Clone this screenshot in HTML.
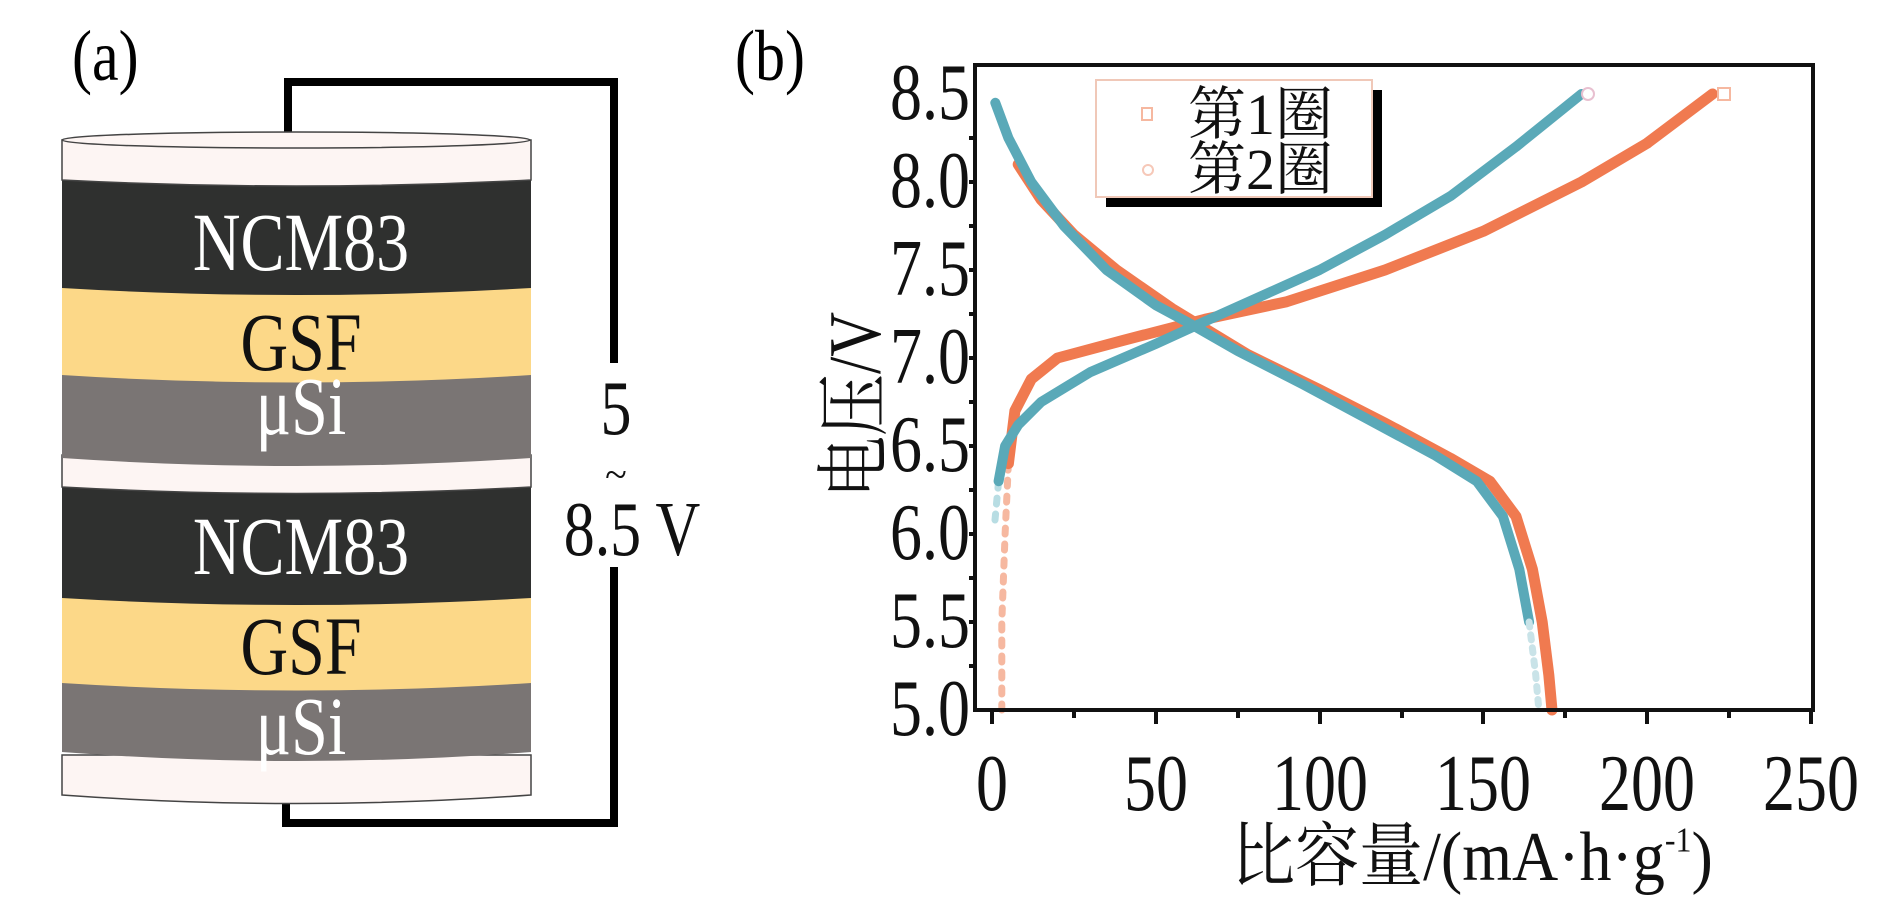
<!DOCTYPE html>
<html><head><meta charset="utf-8"><style>
html,body{margin:0;padding:0;background:#fff;}
svg{display:block;}
text{font-family:"Liberation Serif","Noto Serif CJK SC",serif;}
</style></head><body>
<svg width="1890" height="901" viewBox="0 0 1890 901" xmlns="http://www.w3.org/2000/svg">
<text transform="translate(72,80) scale(1,1.2)" font-size="60">(a)</text>
<polyline points="288,135 288,82 614,82 614,363" fill="none" stroke="#000" stroke-width="8"/>
<polyline points="286,800 286,823 614,823 614,567" fill="none" stroke="#000" stroke-width="8"/>
<g stroke="#444" stroke-width="1.5">
<path d="M62,755 L62,795 Q296,812 531,795 L531,755 Z" fill="#fdf5f3"/>
<path d="M62,680 L62,752 Q296,770 531,752 L531,680 Z" fill="#7a7574" stroke="none"/>
<path d="M62,595 L62,683 Q296,698 531,683 L531,595 Z" fill="#fcd888" stroke="none"/>
<path d="M62,483 L62,598 Q296,612 531,598 L531,483 Z" fill="#2f302f" stroke="none"/>
<path d="M62,455 L62,487 Q296,500 531,487 L531,455 Z" fill="#fdf5f3"/>
<path d="M62,372 L62,458 Q296,474 531,458 L531,372 Z" fill="#7a7574" stroke="none"/>
<path d="M62,285 L62,375 Q296,390 531,375 L531,285 Z" fill="#fcd888" stroke="none"/>
<path d="M62,178 L62,288 Q296,302 531,288 L531,178 Z" fill="#2f302f" stroke="none"/>
<path d="M62,140 L62,180 Q296,192 531,180 L531,140 Z" fill="#fdf5f3"/>
<ellipse cx="296" cy="140" rx="234" ry="8" fill="#fdf5f3"/>
</g>
<g font-size="66" text-anchor="middle">
<text transform="translate(301,270) scale(1,1.25)" fill="#fff">NCM83</text>
<text transform="translate(301,370) scale(1,1.25)" fill="#111">GSF</text>
<text transform="translate(301,434) scale(1,1.25)" fill="#fff">μSi</text>
<text transform="translate(301,574) scale(1,1.25)" fill="#fff">NCM83</text>
<text transform="translate(301,674) scale(1,1.25)" fill="#111">GSF</text>
<text transform="translate(301,754) scale(1,1.25)" fill="#fff">μSi</text>
</g>
<g font-size="62" text-anchor="middle" fill="#111">
<text transform="translate(616,434) scale(1,1.25)">5</text>
<text x="616" y="488" font-size="40">~</text>
<text transform="translate(632,555) scale(1,1.25)">8.5 V</text>
</g>

<text transform="translate(735,80) scale(1,1.2)" font-size="60">(b)</text>
<g fill="none" stroke-linecap="round" stroke-linejoin="round">
<polyline stroke="#f6b8a0" stroke-width="7" stroke-dasharray="6 10" points="1001.8,710 1001.8,622 1005.1,534 1008.4,463.6"/>
<polyline stroke="#f07a50" stroke-width="11" points="1008.4,463.6 1014.9,410.8 1031.3,379.1 1057.5,358 1123,340.4 1204.9,319.3 1286.8,301.7 1385,270 1483.3,231.3 1581.5,182 1647,143.3 1712.5,94"/>
<polyline stroke="#f07a50" stroke-width="11" points="1018.2,164.4 1041.1,199.6 1073.9,234.8 1116.5,270 1172.1,308.7 1247.5,354.5 1319.5,389.7 1385,423.1 1450.5,458.3 1489.8,481.2 1516,516.4 1532.4,569.2 1542.2,622 1548.8,674.8 1552,710"/>
<polyline stroke="#b8dde3" stroke-width="7" stroke-dasharray="6 10" points="995,520 998.6,481.2"/>
<polyline stroke="#5aa9b8" stroke-width="10" points="998.6,481.2 1005.1,446 1018.2,424.9 1041.1,402 1090.3,372.1 1155.8,343.9 1221.3,314 1319.5,270 1385,234.8 1450.5,196.1 1516,146.8 1581.5,94"/>
<polyline stroke="#5aa9b8" stroke-width="10" points="995.3,102.8 1008.4,138 1031.3,182 1064,226 1106.6,270 1155.8,305.2 1188.5,322.8 1237.6,350.9 1303.1,384.4 1368.6,419.6 1434.1,454.8 1476.7,481.2 1502.9,516.4 1519.3,569.2 1529.1,622"/>
<polyline stroke="#c9e3e8" stroke-width="7" stroke-dasharray="5 8" points="1529.1,622 1535.7,674.8 1538.9,710"/>
</g>
<rect x="1718" y="88" width="12" height="12" fill="#fff" stroke="#f6b8a0" stroke-width="2"/>
<circle cx="1588" cy="94" r="6" fill="#fff" stroke="#e8c0d0" stroke-width="2"/>
<rect x="975" y="65" width="838" height="645" fill="none" stroke="#111" stroke-width="4"/>
<g stroke="#111" stroke-width="4">
<line x1="992" y1="710" x2="992" y2="724"/><line x1="1074" y1="710" x2="1074" y2="718"/>
<line x1="1156" y1="710" x2="1156" y2="724"/><line x1="1238" y1="710" x2="1238" y2="718"/>
<line x1="1320" y1="710" x2="1320" y2="724"/><line x1="1402" y1="710" x2="1402" y2="718"/>
<line x1="1483" y1="710" x2="1483" y2="724"/><line x1="1565" y1="710" x2="1565" y2="718"/>
<line x1="1647" y1="710" x2="1647" y2="724"/><line x1="1729" y1="710" x2="1729" y2="718"/>
<line x1="1811" y1="710" x2="1811" y2="724"/>
<line x1="969" y1="622" x2="975" y2="622"/><line x1="969" y1="534" x2="975" y2="534"/>
<line x1="969" y1="446" x2="975" y2="446"/><line x1="969" y1="358" x2="975" y2="358"/>
<line x1="969" y1="270" x2="975" y2="270"/><line x1="969" y1="182" x2="975" y2="182"/>
<line x1="969" y1="666" x2="975" y2="666"/><line x1="969" y1="578" x2="975" y2="578"/>
<line x1="969" y1="490" x2="975" y2="490"/><line x1="969" y1="402" x2="975" y2="402"/>
<line x1="969" y1="314" x2="975" y2="314"/><line x1="969" y1="226" x2="975" y2="226"/>
<line x1="969" y1="138" x2="975" y2="138"/>
</g>
<g font-size="64" text-anchor="end" fill="#111">
<text transform="translate(970,735) scale(1,1.25)">5.0</text>
<text transform="translate(970,647) scale(1,1.25)">5.5</text>
<text transform="translate(970,559) scale(1,1.25)">6.0</text>
<text transform="translate(970,471) scale(1,1.25)">6.5</text>
<text transform="translate(970,383) scale(1,1.25)">7.0</text>
<text transform="translate(970,295) scale(1,1.25)">7.5</text>
<text transform="translate(970,207) scale(1,1.25)">8.0</text>
<text transform="translate(970,119) scale(1,1.25)">8.5</text>
</g>
<g font-size="64" text-anchor="middle" fill="#111">
<text transform="translate(992,810) scale(1,1.25)">0</text>
<text transform="translate(1156,810) scale(1,1.25)">50</text>
<text transform="translate(1320,810) scale(1,1.25)">100</text>
<text transform="translate(1483,810) scale(1,1.25)">150</text>
<text transform="translate(1647,810) scale(1,1.25)">200</text>
<text transform="translate(1811,810) scale(1,1.25)">250</text>
</g>
<text transform="translate(1472,880) scale(1,1.1)" font-size="64" text-anchor="middle" fill="#111">比容量/(mA·h·g<tspan font-size="32" dy="-26">-1</tspan><tspan dy="26">)</tspan></text>
<text transform="translate(880,405) rotate(-90) scale(1,1.2)" font-size="62" text-anchor="middle" fill="#111">电压/V</text>
<rect x="1106" y="90" width="276" height="117" fill="#000"/>
<rect x="1096" y="80" width="276" height="117" fill="#fff" stroke="#f0c8b8" stroke-width="2"/>
<rect x="1142" y="108" width="10" height="12" fill="none" stroke="#f6b8a0" stroke-width="2"/>
<circle cx="1148" cy="170" r="5" fill="none" stroke="#f6c8b8" stroke-width="2"/>
<g font-size="58" fill="#111">
<text x="1188" y="134">第1圈</text>
<text x="1188" y="189">第2圈</text>
</g>
</svg>
</body></html>
